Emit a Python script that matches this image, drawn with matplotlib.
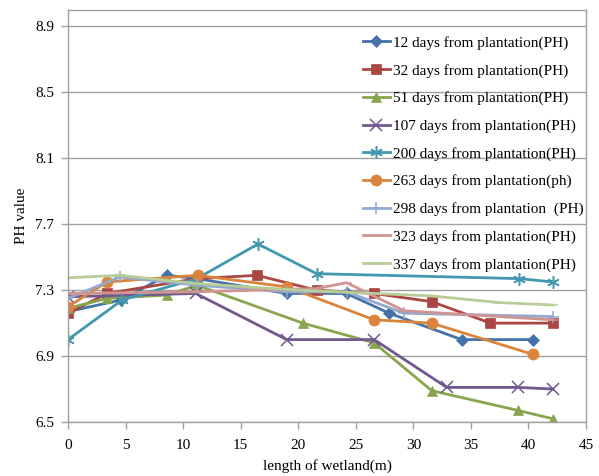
import matplotlib
matplotlib.use("Agg")
import matplotlib.pyplot as plt

plt.rcParams['font.family'] = ['Liberation Serif', 'DejaVu Serif']

labels = ["12 days from plantation(PH)", "32 days from plantation(PH)",
          "51 days from plantation(PH)", "107 days from plantation(PH)",
          "200 days from plantation(PH)", "263 days from plantation(ph)",
          "298 days from plantation  (PH)", "323 days from plantation(PH)",
          "337 days from plantation(PH)"]

x12 = [0, 4.6, 8.6, 11.2, 19.0, 24.2, 27.9, 34.2, 40.4]
y12 = [7.17, 7.24, 7.39, 7.37, 7.28, 7.28, 7.16, 7.00, 7.00]

x32 = [0, 3.4, 11.2, 16.4, 21.6, 26.6, 31.6, 36.7, 42.1]
y32 = [7.16, 7.28, 7.37, 7.39, 7.30, 7.28, 7.23, 7.10, 7.10]

x51 = [0, 3.4, 8.6, 11.2, 20.4, 26.6, 31.6, 39.1, 42.1]
y51 = [7.19, 7.25, 7.27, 7.33, 7.10, 6.98, 6.69, 6.57, 6.52]

x107 = [0, 11.1, 19.0, 26.6, 32.9, 39.1, 42.1]
y107 = [7.26, 7.28, 7.00, 7.00, 6.71, 6.71, 6.70]

x200 = [0, 4.7, 11.2, 16.5, 21.6, 39.2, 42.1]
y200 = [7.00, 7.24, 7.37, 7.58, 7.40, 7.37, 7.35]

x263 = [0, 3.4, 11.25, 19.0, 26.6, 31.6, 40.4]
y263 = [7.20, 7.35, 7.39, 7.32, 7.12, 7.10, 6.91]

x298 = [0, 4.5, 11.2, 19.0, 24.2, 29.2, 42.1]
y298 = [7.25, 7.38, 7.33, 7.29, 7.29, 7.16, 7.14]

x323 = [0, 11.2, 21.6, 24.2, 29.2, 42.1]
y323 = [7.28, 7.29, 7.31, 7.345, 7.175, 7.12]

x337 = [0, 4.5, 11.2, 20.0, 31.6, 37.4, 42.1]
y337 = [7.375, 7.39, 7.34, 7.30, 7.265, 7.225, 7.21]

xs = [x12, x32, x51, x107, x200, x263, x298, x323, x337]
ys = [y12, y32, y51, y107, y200, y263, y298, y323, y337]

colors = ["#4572A7", "#AA4643", "#89A54E", "#71588F", "#4198AF",
          "#DB843D", "#93A9CF", "#D19392", "#B9CD96"]
markers = ["D", "s", "^", "x", (6, 2, 0), "o", "+", "_", "_"]
msizes = [6, 7, 7, 8, 9, 8, 9, 7, 7]

fig = plt.figure(figsize=(5.99, 4.76), dpi=100)
ax = fig.add_axes([68 / 599, 1 - 422 / 476, (586 - 68) / 599, (422 - 10) / 476])

for i in range(len(xs)):
    ax.plot(xs[i], ys[i], color=colors[i], marker=markers[i], markersize=msizes[i],
            markeredgewidth=1.1 if markers[i] not in ("D", "s", "^", "o") else 0.5,
            linewidth=2, label=labels[i])

ax.set_xlim(0, 45)
ax.set_ylim(6.5, 9.0)
ax.set_xticks(range(0, 46, 5))
ax.set_yticks([6.5, 6.9, 7.3, 7.7, 8.1, 8.5, 8.9])
ax.set_yticklabels(["6.5", "6.9", "7.3", "7.7", "8.1", "8.5", "8.9"])
ax.grid(axis="y", color="#A0A0A0", linewidth=1)
ax.set_axisbelow(True)
for s in ax.spines.values():
    s.set_color("#A0A0A0")
    s.set_linewidth(1)
ax.tick_params(colors="#A0A0A0", labelcolor="black", labelsize=11, length=5, width=1)
ax.tick_params(axis="x", pad=7)
ax.tick_params(axis="y", pad=5)

ax.set_ylabel("PH value", fontsize=11, labelpad=5)
ax.set_xlabel("length of wetland(m)", fontsize=11, labelpad=5)

fig.legend(loc="upper left", bbox_to_anchor=(363 / 599, 1 - 36 / 476), frameon=False,
           fontsize=11, handlelength=1.75, labelspacing=0.9, borderpad=0,
           borderaxespad=0, handletextpad=0.2)

fig.savefig("out.png", dpi=100)
